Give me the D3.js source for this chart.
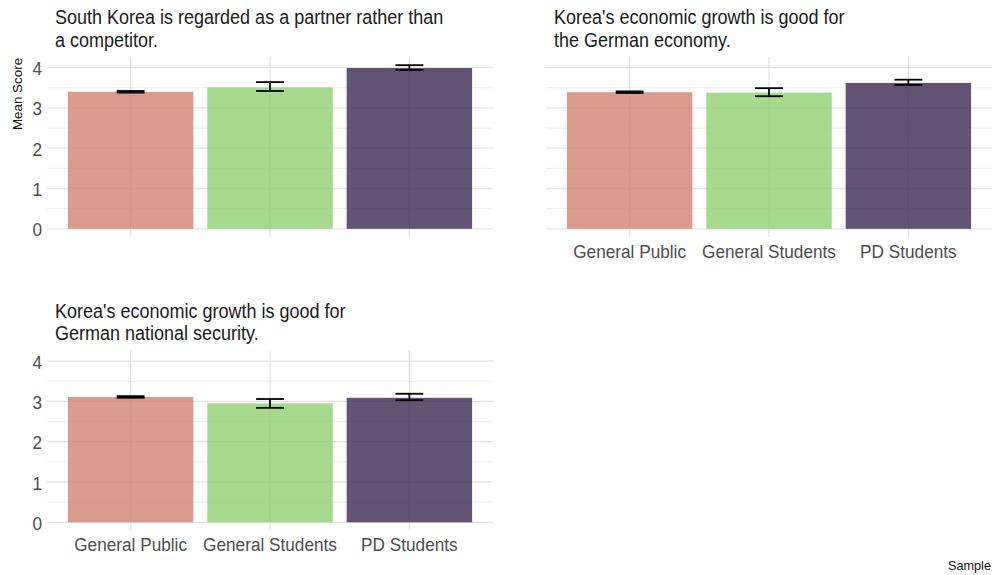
<!DOCTYPE html>
<html>
<head>
<meta charset="utf-8">
<script src="https://cdn.jsdelivr.net/npm/d3@7"></script>
<style>
  html, body { margin: 0; padding: 0; background: #fff; }
  svg { display: block; font-family: "Liberation Sans", Arial, Helvetica, sans-serif; }
</style>
</head>
<body>
<svg id="chart" width="992" height="575"></svg>
<script>
// Sample groups shown on the x axis of every panel
const samples = ["General Public", "General Students", "PD Students"];

// Panel titles (two lines each)
const titles = [
  ["South Korea is regarded as a partner rather than", "a competitor."],
  ["Korea's economic growth is good for", "the German economy."],
  ["Korea's economic growth is good for", "German national security."]
];

// Mean scores per panel, in sample order
const meanPartner  = [3.40, 3.51, 3.99];
const meanEconomy  = [3.39, 3.38, 3.62];
const meanSecurity = [3.11, 2.95, 3.09];

// Error bar bounds per panel
const lowPartner  = [3.38, 3.42, 3.94];
const highPartner = [3.42, 3.64, 4.06];
const lowEconomy  = [3.37, 3.29, 3.57];
const highEconomy = [3.41, 3.49, 3.70];
const lowSecurity  = [3.09, 2.84, 3.03];
const highSecurity = [3.13, 3.06, 3.19];

const yTicks = [0, 1, 2, 3, 4];
const yMinorTicks = [0.5, 1.5, 2.5, 3.5];

const fills = ["#d08270", "#90ce70", "#3b2850"];

const panels = [
  { title: titles[0], mean: meanPartner,  low: lowPartner,  high: highPartner,  x: 47,  y: 57,    yAxis: true,  xAxis: false },
  { title: titles[1], mean: meanEconomy,  low: lowEconomy,  high: highEconomy,  x: 546, y: 57,    yAxis: false, xAxis: true  },
  { title: titles[2], mean: meanSecurity, low: lowSecurity, high: highSecurity, x: 47,  y: 350.5, yAxis: true,  xAxis: true  }
];
const panelW = 446, panelH = 180;
const stretch = 1.12;

const svg = d3.select("#chart");

// shared y scale with 5% padding on both ends, as in ggplot
const allHigh = highPartner.concat(highEconomy, highSecurity);
const yMax = d3.max(allHigh), yMin = 0;
const pad = (yMax - yMin) * 0.05;

const x = d3.scaleBand().domain(samples).range([0, panelW]).paddingInner(0.1).paddingOuter(0.15);
const y = d3.scaleLinear().domain([yMin - pad, yMax + pad]).range([panelH, 0]);

// text helper: slightly tall glyphs
function label(g, str, tx, ty, opts) {
  const t = g.append("text")
    .attr("transform", `translate(${tx},${ty}) scale(1,${opts.sy || stretch})`)
    .attr("font-size", opts.size)
    .attr("fill", opts.fill || "#222")
    .attr("text-anchor", opts.anchor || "start")
    .text(str);
  return t;
}

panels.forEach(p => {
  const g = svg.append("g").attr("transform", `translate(${p.x},${p.y})`);

  // minor horizontal grid
  g.selectAll("line.minor").data(yMinorTicks).join("line")
    .attr("x1", 0).attr("x2", panelW)
    .attr("y1", d => y(d)).attr("y2", d => y(d))
    .attr("stroke", "#ececec").attr("stroke-width", 0.9);
  // major horizontal grid
  g.selectAll("line.major").data(yTicks).join("line")
    .attr("x1", 0).attr("x2", panelW)
    .attr("y1", d => y(d)).attr("y2", d => y(d))
    .attr("stroke", "#e4e4e4").attr("stroke-width", 1.3);
  // vertical grid at each sample
  g.selectAll("line.vgrid").data(samples).join("line")
    .attr("x1", d => x(d) + x.bandwidth() / 2).attr("x2", d => x(d) + x.bandwidth() / 2)
    .attr("y1", 0).attr("y2", panelH)
    .attr("stroke", "#e4e4e4").attr("stroke-width", 1.3);

  // bars
  g.selectAll("rect.bar").data(samples).join("rect")
    .attr("x", d => x(d))
    .attr("width", x.bandwidth())
    .attr("y", (d, i) => y(p.mean[i]))
    .attr("height", (d, i) => y(0) - y(p.mean[i]))
    .attr("fill", (d, i) => fills[i])
    .attr("fill-opacity", 0.8);

  // error bars
  const ebW = x.step() * 0.2;
  samples.forEach((s, i) => {
    const cx = x(s) + x.bandwidth() / 2;
    const yl = y(p.low[i]), yh = y(p.high[i]);
    const e = g.append("g").attr("stroke", "#000").attr("stroke-width", 1.8);
    e.append("line").attr("x1", cx - ebW / 2).attr("x2", cx + ebW / 2).attr("y1", yh).attr("y2", yh);
    e.append("line").attr("x1", cx - ebW / 2).attr("x2", cx + ebW / 2).attr("y1", yl).attr("y2", yl);
    e.append("line").attr("x1", cx).attr("x2", cx).attr("y1", yh).attr("y2", yl);
  });

  // y tick labels
  if (p.yAxis) {
    yTicks.forEach(t => label(g, String(t), -5, y(t) + 7.5, { size: 17.2, fill: "#4d4d4d", anchor: "end" }));
  }
  // x tick labels
  if (p.xAxis) {
    samples.forEach(s => label(g, s, x(s) + x.bandwidth() / 2, panelH + 20.5, { size: 17.2, fill: "#4d4d4d", anchor: "middle" }));
  }

  // title
  label(g, p.title[0], 8, -33, { size: 18, fill: "#1a1a1a" });
  label(g, p.title[1], 8, -10.5, { size: 18, fill: "#1a1a1a" });
});

// axis titles
svg.append("text")
  .attr("transform", "translate(22,94) rotate(-90)")
  .attr("text-anchor", "middle")
  .attr("font-size", 13.4)
  .attr("fill", "#111")
  .text("Mean Score");

svg.append("text")
  .attr("x", 991).attr("y", 570)
  .attr("text-anchor", "end")
  .attr("font-size", 12.7)
  .attr("fill", "#111")
  .text("Sample");
</script>
</body>
</html>
